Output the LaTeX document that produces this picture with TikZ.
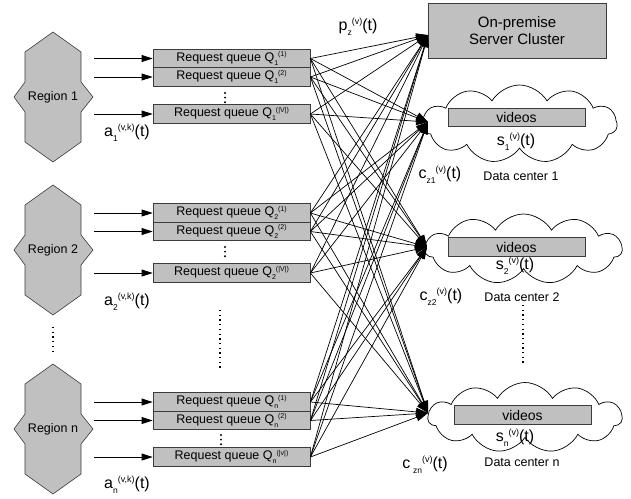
\documentclass[tikz,border=0pt]{standalone}
\usepackage{fontspec}
\setmainfont{Liberation Sans}
\usetikzlibrary{shapes.symbols,arrows.meta}
\definecolor{boxgray}{RGB}{192,192,192}
\definecolor{edgegray}{RGB}{60,60,60}
\newcommand{\qsub}[2]{\raisebox{-4pt}{\fontsize{7}{7}\selectfont#1}\raisebox{4.5pt}{\fontsize{7}{7}\selectfont#2}}
\newcommand{\bsub}[2]{\raisebox{-5pt}{\fontsize{8.5}{8.5}\selectfont#1}\raisebox{6pt}{\fontsize{9}{9}\selectfont#2}}
\tikzset{
  queue/.style={draw=edgegray, line width=0.8pt, fill=boxgray, minimum width=157pt,
    minimum height=18.5pt, inner sep=0pt, font=\fontsize{12.5}{12.5}\selectfont},
  regionshape/.style={draw=edgegray, line width=0.6pt, fill=boxgray},
  regionlabel/.style={inner sep=0pt, font=\fontsize{12.5}{12.5}\selectfont},
  inarrow/.style={line width=0.8pt, -{Triangle[length=11pt,width=7pt]}},
  link/.style={line width=0.7pt, -{Triangle[length=12pt,width=8pt]}},
  server/.style={draw=edgegray, line width=0.8pt, fill=boxgray, minimum width=178pt,
    minimum height=55pt, align=center, inner sep=0pt, font=\fontsize{15}{17}\selectfont},
  dccloud/.style={cloud, draw=black, line width=0.7pt, fill=white, cloud puffs=11,
    cloud puff arc=120, inner sep=0pt},
  videobox/.style={draw=edgegray, line width=0.8pt, fill=boxgray, minimum width=137pt,
    minimum height=18.5pt, inner sep=0pt, font=\fontsize{14}{14}\selectfont},
  biglabel/.style={inner sep=0pt, font=\fontsize{16}{16}\selectfont},
  dclabel/.style={inner sep=0pt, font=\fontsize{12.5}{12.5}\selectfont},
  longdots/.style={line width=1.3pt, dash pattern=on 1.3pt off 3.4pt},
}
\begin{document}
\begin{tikzpicture}[x=1pt,y=-1pt]
\useasboundingbox (0,0) rectangle (631,498);

% regions
\foreach \cy/\name/\txt in {97/r1/Region 1, 250/r2/Region 2, 429/rn/Region n}{
  \begin{scope}[shift={(53,\cy)}]
    \draw[regionshape] (0,-65) -- (28,-45) -- (28,-15) -- (40,0) -- (28,15) -- (28,45)
      -- (0,65) -- (-28,45) -- (-28,15) -- (-39,0) -- (-28,-15) -- (-28,-45) -- cycle;
    \node[regionlabel] (\name) at (0,0) {\txt};
  \end{scope}
}

% queues
\node[queue] (q11) at (231.5,58.5) {Request queue Q\qsub{1}{(1)}};
\node[queue] (q12) at (231.5,77) {Request queue Q\qsub{1}{(2)}};
\node[queue] (q13) at (231.5,114) {Request queue Q\qsub{1}{(|V|)}};
\node[queue] (q21) at (231.5,213) {Request queue Q\qsub{2}{(1)}};
\node[queue] (q22) at (231.5,231.5) {Request queue Q\qsub{2}{(2)}};
\node[queue] (q23) at (231.5,273) {Request queue Q\qsub{2}{(|V|)}};
\node[queue] (qn1) at (231.5,402) {Request queue Q\qsub{n}{(1)}};
\node[queue] (qn2) at (231.5,420.5) {Request queue Q\qsub{n}{(2)}};
\node[queue] (qn3) at (231.5,457) {Request queue Q\qsub{n}{(|v|)}};

% input arrows
\foreach \q in {q11,q12,q13,q21,q22,q23,qn1,qn2,qn3}{
  \coordinate (s\q) at (94,0 |- \q.west);
  \draw[inarrow] (s\q) -- (\q.west);
}

% small dots between queues
\foreach \x/\y in {225/93, 225/247, 221/435}{
  \foreach \k in {0,1,2}{\fill (\x,\y+\k*4.6) circle (1.1pt);}
}

% long dotted columns
\coordinate (dA1) at (53,327); \coordinate (dA2) at (53,352);
\coordinate (dB1) at (220,310); \coordinate (dB2) at (220,368);
\coordinate (dC1) at (523,305); \coordinate (dC2) at (523,363);
\draw[longdots] (dA1) -- (dA2);
\draw[longdots] (dB1) -- (dB2);
\draw[longdots] (dC1) -- (dC2);

% server and data centres
\node[server] (sv) at (517,30.5) {On-premise\\Server Cluster};
\node[dccloud, minimum width=195pt, minimum height=78pt] (c1) at (519.5,124) {};
\node[dccloud, minimum width=197pt, minimum height=70pt] (c2) at (523.5,249) {};
\node[dccloud, minimum width=194pt, minimum height=70pt] (cn) at (525,417.5) {};
\node[videobox] (v1) at (516.5,117.5) {videos};
\node[videobox] (v2) at (516.5,247) {videos};
\node[videobox] (vn) at (522.5,415) {videos};
\node[biglabel] (s1) at (516,142) {s\bsub{1}{(v)}(t)};
\node[biglabel] (s2) at (515,266) {s\bsub{2}{(v)}(t)};
\node[biglabel] (sn) at (515,438) {s\bsub{n}{(v)}(t)};
\node[dclabel] (l1) at (521,176) {Data center 1};
\node[dclabel] (l2) at (522,297) {Data center 2};
\node[dclabel] (ln) at (522,462) {Data center n};

% arrow targets
\coordinate (tsv) at (428,35);
\coordinate (td1) at (428,122);
\coordinate (td2) at (427,247);
\coordinate (tdn) at (428,413);

% links
\foreach \q in {q11,q12,q13,q21,q22,q23,qn1,qn2,qn3}{
  \foreach \d in {tsv,td1,td2,tdn}{
    \draw[link] (\q.east) -- (\d);
  }
}

% labels
\node[biglabel] (la1) at (127,133) {a\bsub{1}{(v,k)}(t)};
\node[biglabel] (la2) at (127,302) {a\bsub{2}{(v,k)}(t)};
\node[biglabel] (lan) at (127,485) {a\bsub{n}{(v,k)}(t)};
\node[biglabel] (lp) at (358,27) {p\bsub{z}{(v)}(t)};
\node[biglabel] (lc1) at (440,175) {c\bsub{z1}{(v)}(t)};
\node[biglabel] (lc2) at (441,297) {c\bsub{z2}{(v)}(t)};
\node[biglabel] (lcn) at (425,465) {c\,\bsub{zn}{(v)}(t)};
\end{tikzpicture}
\end{document}
